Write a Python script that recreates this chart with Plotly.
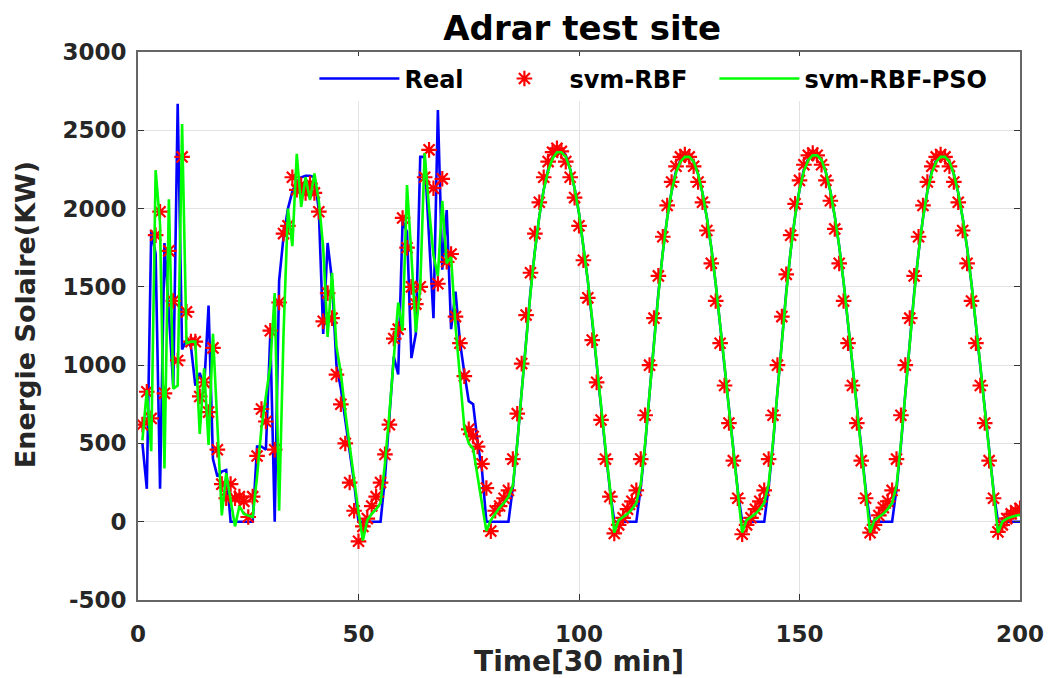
import plotly.graph_objects as go

# time index (30-min steps)
t = list(range(1, 201))

# ---- Real solar energy (KW) ----
real_early = [500, 210, 1860, 1710, 210, 1780, 1330, 860, 2670, 1100,
              1160, 1120, 870, 950, 860, 1380, 400, 290, 320, 330,
              0, 0, 0, 0, 0, 0, 480, 480, 460, 1200,
              0, 1540, 1820, 2000, 2110, 2170, 2200, 2210, 2210, 2200,
              1990, 1200, 1780, 1540, 1000, 850, 650, 450, 250, 0,
              0, 0, 0, 0, 0, 280, 700, 1055, 940, 1920,
              1850, 1045, 1200, 2330, 2330, 1800, 1300, 2630, 1610, 1990,
              1230, 1470, 1150, 950, 770, 750, 510, 330, 0, 0,
              0, 0, 0, 0]
real_day_c = [220, 500, 830, 1170, 1470, 1730, 1950, 2120, 2250, 2330, 2370, 2380,
              2340, 2250, 2130, 1970, 1770, 1540, 1280, 1000, 720, 460, 210]
real_night_c = [0, 0, 0, 0, 0, 0]
real_day_d = [220, 490, 820, 1160, 1460, 1720, 1940, 2110, 2240, 2310, 2340, 2335,
              2300, 2220, 2100, 1940, 1750, 1520, 1260, 990, 710, 450, 200]
real_night_d = [0, 0, 0, 0, 0, 0]
real_day_e = [220, 500, 830, 1170, 1470, 1730, 1950, 2120, 2250, 2320, 2350, 2345,
              2310, 2230, 2110, 1950, 1760, 1530, 1270, 1000, 720, 460, 210]
real_night_e = [0, 0, 0, 0, 0, 0]
real_day_f = [210, 490, 820, 1160, 1460, 1720, 1940, 2110, 2240, 2310, 2340, 2335,
              2300, 2220, 2100, 1940, 1750, 1520, 1260, 990, 710, 450, 200]
real_night_f = [0, 0, 0, 0, 0, 0]

# ---- svm-RBF prediction ----
rbf_early = [620, 830, 660, 1830, 1980, 820, 1730, 1410, 1030, 2330,
             1340, 1150, 1150, 800, 890, 700, 1110, 460, 240, 150,
             240, 150, 160, 130, 30, 160, 420, 720, 640, 1220,
             460, 1400, 1840, 1890, 2200, 2120, 2150, 2100, 2160, 2100,
             1980, 1280, 1460, 1300, 940, 750, 500, 250, 70, -125,
             -30, 20, 100, 160, 250, 430, 620, 1170, 1230, 1940,
             1750, 1500, 1390, 1500, 2200, 2375, 2130, 1520, 2190, 1660,
             1710, 1310, 1140, 930, 590, 545, 480, 370, 215, -60,
             70, 100, 150, 200]
rbf_day_c = [400, 690, 1010, 1320, 1590, 1840, 2040, 2200, 2300, 2360, 2385, 2365,
             2300, 2200, 2070, 1890, 1670, 1430, 1160, 890, 650, 400, 160]
rbf_night_c = [-75, -20, 25, 80, 130, 200]
rbf_day_d = [400, 680, 1000, 1300, 1570, 1820, 2020, 2170, 2270, 2330, 2345, 2330,
             2270, 2170, 2040, 1860, 1650, 1410, 1140, 870, 630, 390, 150]
rbf_night_d = [-80, -20, 25, 80, 130, 200]
rbf_day_e = [400, 680, 1000, 1310, 1580, 1830, 2030, 2180, 2280, 2340, 2355, 2340,
             2280, 2180, 2050, 1870, 1650, 1410, 1140, 870, 630, 390, 150]
rbf_night_e = [-70, -20, 40, 90, 130, 200]
rbf_day_f = [400, 680, 1000, 1300, 1570, 1820, 2020, 2170, 2270, 2330, 2345, 2330,
             2270, 2170, 2040, 1860, 1650, 1410, 1140, 870, 630, 390, 150]
rbf_night_f = [-65, -20, 20, 50, 70, 85]

# ---- svm-RBF-PSO prediction ----
pso_early = [520, 840, 450, 2245, 1900, 340, 2060, 850, 870, 2540,
             1140, 1150, 1150, 560, 980, 490, 1200, 600, 40, 310,
             150, -30, 100, 50, 40, 30, 290, 600, 800, 1000,
             1460, 70, 1200, 2000, 1760, 2350, 2010, 2200, 2055, 2225,
             2050, 1750, 1180, 1590, 1120, 950, 700, 480, 270, 60,
             -120, 10, 50, 80, 120, 370, 690, 1050, 1400, 1220,
             2150, 1700, 1210, 1500, 2355, 2000, 1700, 1570, 2050, 1650,
             1690, 1250, 900, 600, 500, 465, 290, 100, -60, 10,
             50, 90, 120, 160]
pso_day_c = [230, 500, 830, 1160, 1460, 1730, 1950, 2120, 2240, 2320, 2360, 2360,
             2330, 2250, 2130, 1970, 1770, 1540, 1290, 1010, 730, 470, 220]
pso_night_c = [-70, 10, 30, 50, 80, 120]
pso_day_d = [240, 500, 820, 1150, 1450, 1720, 1940, 2110, 2230, 2300, 2330, 2330,
             2300, 2220, 2100, 1940, 1750, 1520, 1270, 1000, 720, 460, 210]
pso_night_d = [-70, 10, 30, 50, 80, 120]
pso_day_e = [240, 510, 830, 1160, 1460, 1730, 1950, 2120, 2240, 2310, 2340, 2340,
             2310, 2230, 2110, 1950, 1760, 1530, 1280, 1010, 730, 470, 220]
pso_night_e = [-70, 10, 30, 50, 80, 120]
pso_day_f = [230, 500, 820, 1150, 1450, 1720, 1940, 2110, 2230, 2300, 2330, 2330,
             2300, 2220, 2100, 1940, 1750, 1520, 1270, 1000, 720, 460, 210]
pso_night_f = [-70, 0, 20, 30, 40, 45]

real = (real_early + real_day_c + real_night_c + real_day_d + real_night_d
        + real_day_e + real_night_e + real_day_f + real_night_f)
rbf = (rbf_early + rbf_day_c + rbf_night_c + rbf_day_d + rbf_night_d
       + rbf_day_e + rbf_night_e + rbf_day_f + rbf_night_f)
pso = (pso_early + pso_day_c + pso_night_c + pso_day_d + pso_night_d
       + pso_day_e + pso_night_e + pso_day_f + pso_night_f)

x_ticks = [0, 50, 100, 150, 200]
x_ticklabels = ["0", "50", "100", "150", "200"]
y_ticks = [-500, 0, 500, 1000, 1500, 2000, 2500, 3000]
y_ticklabels = ["-500", "0", "500", "1000", "1500", "2000", "2500", "3000"]

FONT = "DejaVu Sans"

fig = go.Figure()
fig.add_trace(go.Scatter(x=t, y=real, mode="lines", name="Real", legendwidth=70,
                         line=dict(color="#0000ff", width=2.6)))
fig.add_trace(go.Scatter(x=t, y=rbf, mode="markers", name="svm-RBF", legendwidth=140,
                         marker=dict(symbol="asterisk-open", size=13, color="#ff0000",
                                     line=dict(color="#ff0000", width=2.2))))
fig.add_trace(go.Scatter(x=t, y=pso, mode="lines", name="svm-RBF-PSO",
                         line=dict(color="#00ff00", width=2.6)))

axis_common = dict(showgrid=True, gridcolor="#e3e3e3", gridwidth=1,
                   showline=True, linecolor="#666666", linewidth=1.8, mirror="ticks",
                   ticks="inside", ticklen=6, tickcolor="#333333",
                   zeroline=False, automargin=False,
                   tickfont=dict(family=FONT, size=23, color="#262626", weight="bold"))

fig.update_xaxes(range=[0, 200], tickvals=x_ticks, ticktext=x_ticklabels,
                 ticklabelstandoff=12,
                 title=dict(text="Time[30 min]", standoff=6,
                            font=dict(family=FONT, size=28, color="#262626", weight="bold")),
                 **axis_common)
fig.update_yaxes(range=[-500, 3000], tickvals=y_ticks, ticktext=y_ticklabels,
                 ticklabelstandoff=5, **axis_common)

fig.add_annotation(text="Energie Solaire(KW)", textangle=-90,
                   xref="paper", yref="paper", x=-0.128, y=0.52,
                   xanchor="center", yanchor="middle", showarrow=False,
                   font=dict(family=FONT, size=27, color="#262626", weight="bold"))

fig.update_layout(
    width=1048, height=678,
    margin=dict(l=138, r=28, t=52, b=78, autoexpand=False),
    paper_bgcolor="white", plot_bgcolor="white",
    title=dict(text="Adrar test site", x=0.5555, xanchor="center",
               y=0.958, yanchor="middle", yref="container",
               font=dict(family=FONT, size=34, color="black", weight="bold")),
    legend=dict(orientation="h", x=0.2, xanchor="left", y=0.992, yanchor="top",
                bgcolor="white", borderwidth=0, itemwidth=80,
                font=dict(family=FONT, size=24, color="black", weight="bold")),
    showlegend=True,
)

fig.write_html("out.html")
